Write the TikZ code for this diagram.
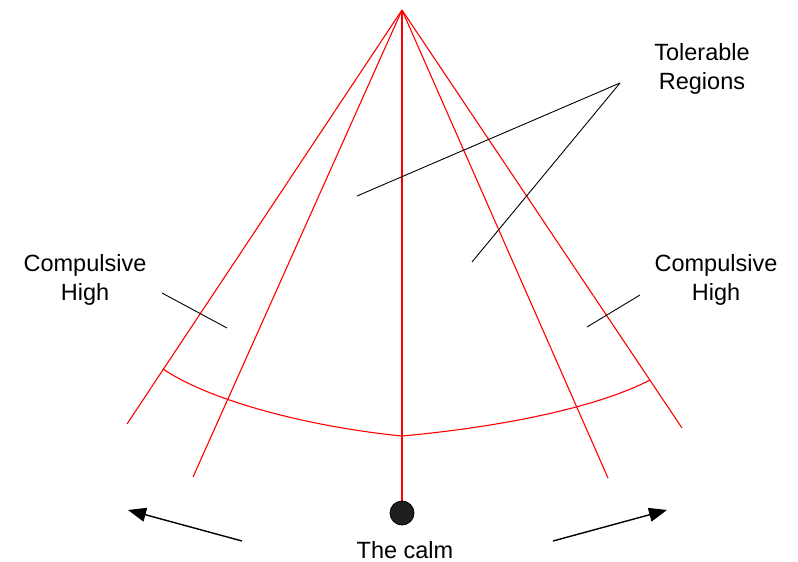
\documentclass[tikz,border=0pt]{standalone}
\usepackage{fontspec}
\setmainfont{Liberation Sans}
\usetikzlibrary{arrows.meta}
\begin{document}
\begin{tikzpicture}[x=1pt,y=-1pt,
  redline/.style={draw=red, line width=1.1pt},
  leader/.style={draw=black, line width=0.9pt},
  label/.style={font=\fontsize{23.5}{29}\selectfont, align=center, inner sep=0pt},
  bigarrow/.style={draw=black, line width=1.4pt, -{Triangle[length=18pt,width=14pt]}}]
\useasboundingbox (0,0) rectangle (798,562);
% apex and line ends
\coordinate (apex) at (402,10);
\coordinate (ol) at (127,424);
\coordinate (il) at (193,477);
\coordinate (cm) at (402,501);
\coordinate (ir) at (608,478);
\coordinate (or) at (682,428);
\draw[redline] (apex) -- (ol);
\draw[redline] (apex) -- (il);
\draw[redline] (apex) -- (cm);
\draw[redline] (apex) -- (ir);
\draw[redline] (apex) -- (or);
% arc
\coordinate (al) at (163,369);
\coordinate (am) at (402,436);
\coordinate (ar) at (650,380);
\draw[redline] (al) .. controls (215,404) and (320,428) .. (am);
\draw[redline] (am) .. controls (490,428) and (592,410) .. (ar);
% ball
\node[circle, fill=black!88, draw=black, line width=0.8pt, minimum size=24pt, inner sep=0pt] (ball) at (402,513) {};
% labels
\node[label] (tol) at (702,69) {Tolerable\\Regions};
\node[label] (chl) at (85,280) {Compulsive\\High};
\node[label] (chr) at (716,280) {Compulsive\\High};
\node[label] (calm) at (405,550) {The calm};
% leaders
\coordinate (tp) at (620,83);
\coordinate (t1) at (357,196);
\coordinate (t2) at (472,262);
\draw[leader] (tp) -- (t1);
\draw[leader] (tp) -- (t2);
\coordinate (l1) at (162,293);
\coordinate (l2) at (227,328);
\draw[leader] (l1) -- (l2);
\coordinate (r1) at (640,295);
\coordinate (r2) at (587,327);
\draw[leader] (r1) -- (r2);
% arrows
\coordinate (la0) at (242,541);
\coordinate (la1) at (128,510);
\coordinate (ra0) at (553,541);
\coordinate (ra1) at (667,510);
\draw[bigarrow] (la0) -- (la1);
\draw[bigarrow] (ra0) -- (ra1);
\end{tikzpicture}
\end{document}
